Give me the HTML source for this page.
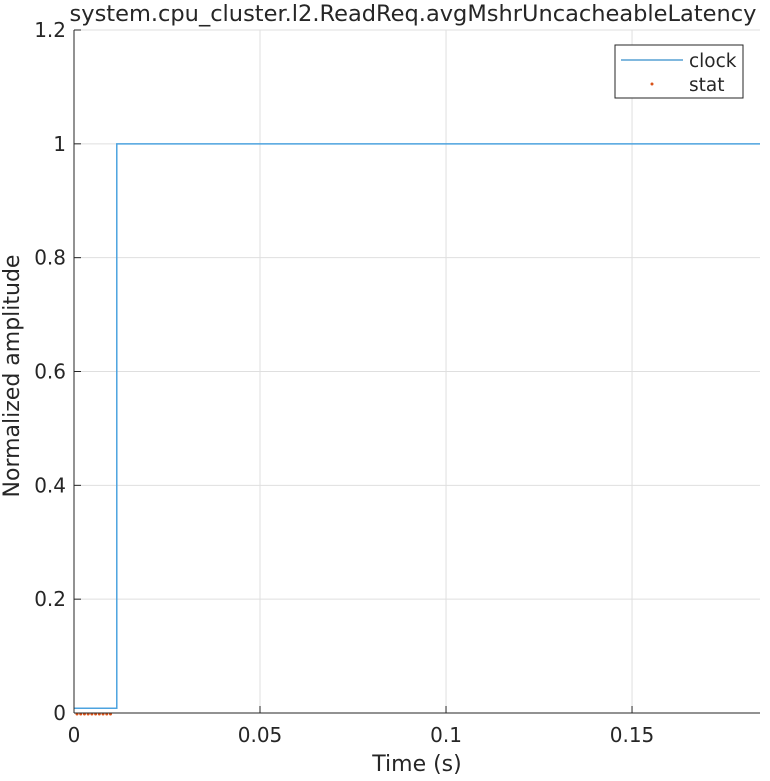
<!DOCTYPE html>
<html><head><meta charset="utf-8"><style>
body{margin:0;background:#fff;}
svg text{font-family:"DejaVu Sans","Liberation Sans",sans-serif;fill:#262626;}
</style></head><body>
<svg width="770" height="776">
<g id="grid"></g>
<g id="marks"></g>
<g id="axes"></g>
<text x="413" y="21" font-size="22.5" text-anchor="middle">system.cpu_cluster.l2.ReadReq.avgMshrUncacheableLatency</text>
<text x="417" y="771" font-size="22" text-anchor="middle">Time (s)</text>
<text transform="translate(19,376) rotate(-90)" font-size="22" text-anchor="middle">Normalized amplitude</text>
<g>
<rect x="615" y="45" width="128" height="53" fill="#fff" stroke="#262626" stroke-width="1"/>
<line x1="621" y1="60" x2="683" y2="60" stroke="#0072BD" stroke-width="1"/>
<text x="689" y="67" font-size="18.5">clock</text>
<circle cx="652" cy="84" r="1.5" fill="#D95319"/>
<text x="689" y="91" font-size="18.5">stat</text>
</g>
</svg>
<script>
const xTicks=[0,0.05,0.1,0.15];
const xTickLabels=["0","0.05","0.1","0.15"];
const yTicks=[0,0.2,0.4,0.6,0.8,1,1.2];
const yTickLabels=["0","0.2","0.4","0.6","0.8","1","1.2"];
const clockT=[0,0.0115,0.0115,0.1844];
const clockV=[0.0083,0.0083,1,1];
const statT=[0,0.001,0.002,0.003,0.004,0.005,0.006,0.007,0.008,0.009];
const statV=[0,0,0,0,0,0,0,0,0,0];
const X0=74,X1=760,Y0=713,Y1=30,xMax=0.1844,yMax=1.2;
const sx=v=>X0+v/xMax*(X1-X0), sy=v=>Y0-v/yMax*(Y0-Y1);
const NS="http://www.w3.org/2000/svg";
function mk(t,a,p){const e=document.createElementNS(NS,t);for(const k in a)e.setAttribute(k,a[k]);p.appendChild(e);return e;}
const grid=document.getElementById('grid'),axes=document.getElementById('axes'),marks=document.getElementById('marks');
xTicks.forEach((t,i)=>{const x=sx(t);
 if(t>0){const g=mk('line',{x1:x,y1:Y1,x2:x,y2:Y0,stroke:'#dfdfdf','stroke-width':1},grid);
 
 }
 mk('line',{x1:x,y1:Y0,x2:x,y2:Y0-7,stroke:'#262626'},axes);
 const l=mk('text',{x:x,y:Y0+29,'font-size':20,'text-anchor':'middle'},axes);l.textContent=xTickLabels[i];
 
 
});
yTicks.forEach((t,i)=>{const y=sy(t);
 if(t>0){const g=mk('line',{x1:X0,y1:y,x2:X1,y2:y,stroke:'#dfdfdf','stroke-width':1},grid);
 
 }
 mk('line',{x1:X0,y1:y,x2:X0+7,y2:y,stroke:'#262626'},axes);
 const l=mk('text',{x:X0-8,y:y+7,'font-size':20,'text-anchor':'end'},axes);l.textContent=yTickLabels[i];
 
 
});
mk('line',{x1:X0,y1:Y0,x2:X1,y2:Y0,stroke:'#262626'},axes);
mk('line',{x1:X0,y1:Y0,x2:X0,y2:Y1,stroke:'#262626'},axes);
const cl=mk('polyline',{points:clockT.map((t,i)=>sx(t)+','+sy(clockV[i])).join(' '),fill:'none',stroke:'#4DA3DF','stroke-width':1.5},marks);


statT.forEach((t,i)=>{const c=mk('circle',{cx:sx(t)+3,cy:sy(statV[i])+1,r:1.5,fill:'#D95319'},marks);
 
 });
</script>
</body></html>
